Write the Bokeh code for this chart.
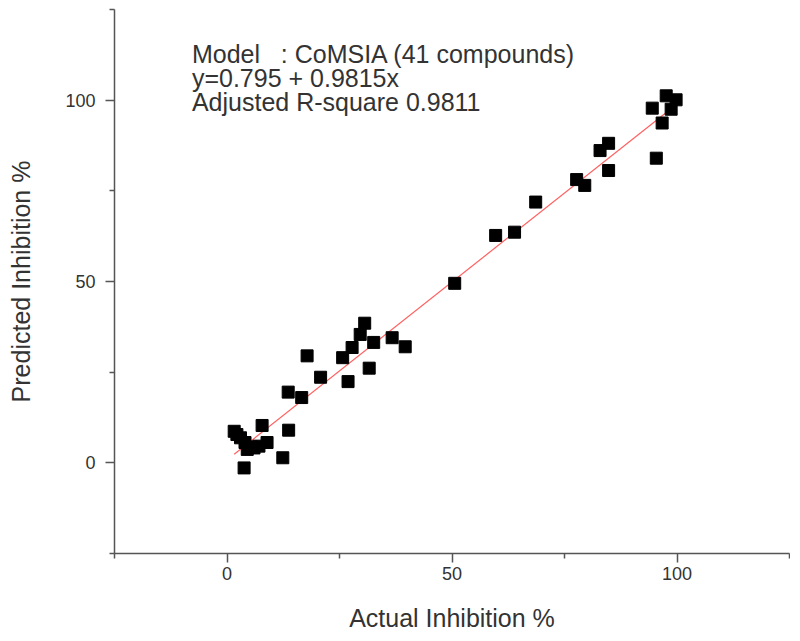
from bokeh.plotting import figure
from bokeh.models import Range1d, FixedTicker, Label, ColumnDataSource
from bokeh.embed import file_html
from bokeh.resources import INLINE

# ---- data ----
actual = [1.6, 2.2, 3.0, 3.8, 4.5, 5.5, 6.0, 7.1, 7.8, 8.9, 12.4, 13.7,
          13.6, 16.6, 17.8, 20.8, 25.7, 26.9, 27.8, 29.6, 30.6, 31.6, 32.6,
          36.7, 39.6, 50.6, 59.7, 63.9, 68.6, 77.7, 79.5, 82.9, 84.8, 84.8,
          94.5, 95.4, 96.7, 97.6, 99.8, 98.7, 4.0]
predicted = [8.7, 7.8, 6.9, -1.4, 3.7, 4.4, 4.1, 4.6, 10.3, 5.6, 1.4, 9.0,
             19.5, 18.0, 29.5, 23.6, 29.0, 22.4, 31.8, 35.4, 38.5, 26.1, 33.2,
             34.5, 32.0, 49.5, 62.7, 63.6, 71.9, 78.1, 76.5, 86.1, 88.1, 80.6,
             97.8, 84.0, 93.7, 101.2, 100.1, 97.5, 5.6]
fit_intercept = 0.795
fit_slope = 0.9815
x_major = [0, 50, 100]
x_minor = [-25, 25, 75, 125]
y_major = [0, 50, 100]
y_minor = [-25, 25, 75, 125]
annotation = ["Model\u00a0\u00a0\u00a0: CoMSIA (41 compounds)",
              "y=0.795 + 0.9815x",
              "Adjusted R-square 0.9811"]

FONT = "Liberation Sans"
TXT = "#333333"
AX = "#555555"

p = figure(width=790, height=634, output_backend="svg", toolbar_location=None,
           x_range=Range1d(-25, 125), y_range=Range1d(-25, 125),
           min_border_left=114, min_border_right=1, min_border_top=9,
           min_border_bottom=69)
p.outline_line_color = None
p.xgrid.visible = False
p.ygrid.visible = False
p.background_fill_color = "white"

for ax, maj, mnr in ((p.xaxis[0], x_major, x_minor), (p.yaxis[0], y_major, y_minor)):
    ax.ticker = FixedTicker(ticks=maj, minor_ticks=mnr)
    ax.axis_line_color = AX
    ax.axis_line_width = 1.5
    ax.major_tick_line_color = AX
    ax.minor_tick_line_color = AX
    ax.major_tick_line_width = 1.5
    ax.minor_tick_line_width = 1.5
    ax.major_tick_out = 9
    ax.major_tick_in = 0
    ax.minor_tick_out = 5
    ax.minor_tick_in = 0
    ax.major_label_text_font = FONT
    ax.major_label_text_font_size = "18px"
    ax.major_label_text_color = TXT
    ax.axis_label_text_font = FONT
    ax.axis_label_text_font_size = "25px"
    ax.axis_label_text_font_style = "normal"
    ax.axis_label_text_color = TXT

p.xaxis.axis_label = "Actual Inhibition %"
p.yaxis.axis_label = "Predicted Inhibition %"
p.xaxis.major_label_standoff = 4
p.xaxis.axis_label_standoff = 21
p.yaxis.major_label_standoff = 10
p.yaxis.axis_label_standoff = 27
p.yaxis.major_label_orientation = "horizontal"

# regression line
x0, x1 = min(actual), max(actual)
p.line([x0, x1], [fit_intercept + fit_slope * x0, fit_intercept + fit_slope * x1],
       line_color="#ff6060", line_width=1.2)

src = ColumnDataSource(dict(x=actual, y=predicted))
p.scatter("x", "y", source=src, marker="square", size=12,
          fill_color="black", line_color="black")

for i, t in enumerate(annotation):
    p.add_layout(Label(x=-7.8, y=112.6 - i * 6.6, text=t, text_font=FONT,
                       text_font_size="25px", text_color=TXT,
                       text_baseline="middle", text_align="left"))

open("out.html", "w").write(file_html(p, INLINE))
